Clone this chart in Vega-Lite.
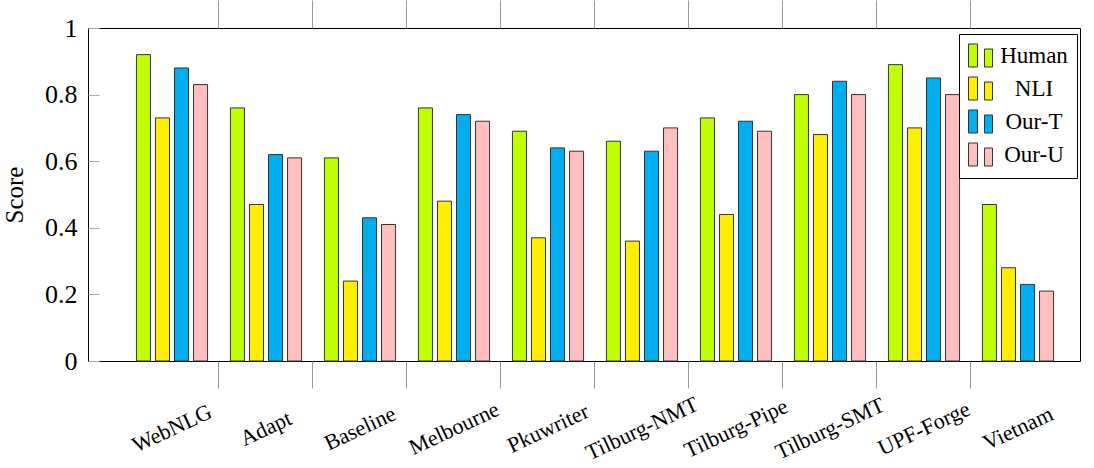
{
  "$schema": "https://vega.github.io/schema/vega-lite/v6.json",
  "autosize": "none",
  "padding": {"left": 88, "top": 28, "right": 14, "bottom": 107},
  "width": 992,
  "height": 333,
  "background": "white",
  "config": {
    "view": {"stroke": "black", "strokeWidth": 1},
    "font": "Liberation Serif"
  },
  "data": {
    "values": [
      {"system": "WebNLG", "method": "Human", "score": 0.92},
      {"system": "WebNLG", "method": "NLI", "score": 0.73},
      {"system": "WebNLG", "method": "Our-T", "score": 0.88},
      {"system": "WebNLG", "method": "Our-U", "score": 0.83},
      {"system": "Adapt", "method": "Human", "score": 0.76},
      {"system": "Adapt", "method": "NLI", "score": 0.47},
      {"system": "Adapt", "method": "Our-T", "score": 0.62},
      {"system": "Adapt", "method": "Our-U", "score": 0.61},
      {"system": "Baseline", "method": "Human", "score": 0.61},
      {"system": "Baseline", "method": "NLI", "score": 0.24},
      {"system": "Baseline", "method": "Our-T", "score": 0.43},
      {"system": "Baseline", "method": "Our-U", "score": 0.41},
      {"system": "Melbourne", "method": "Human", "score": 0.76},
      {"system": "Melbourne", "method": "NLI", "score": 0.48},
      {"system": "Melbourne", "method": "Our-T", "score": 0.74},
      {"system": "Melbourne", "method": "Our-U", "score": 0.72},
      {"system": "Pkuwriter", "method": "Human", "score": 0.69},
      {"system": "Pkuwriter", "method": "NLI", "score": 0.37},
      {"system": "Pkuwriter", "method": "Our-T", "score": 0.64},
      {"system": "Pkuwriter", "method": "Our-U", "score": 0.63},
      {"system": "Tilburg-NMT", "method": "Human", "score": 0.66},
      {"system": "Tilburg-NMT", "method": "NLI", "score": 0.36},
      {"system": "Tilburg-NMT", "method": "Our-T", "score": 0.63},
      {"system": "Tilburg-NMT", "method": "Our-U", "score": 0.70},
      {"system": "Tilburg-Pipe", "method": "Human", "score": 0.73},
      {"system": "Tilburg-Pipe", "method": "NLI", "score": 0.44},
      {"system": "Tilburg-Pipe", "method": "Our-T", "score": 0.72},
      {"system": "Tilburg-Pipe", "method": "Our-U", "score": 0.69},
      {"system": "Tilburg-SMT", "method": "Human", "score": 0.80},
      {"system": "Tilburg-SMT", "method": "NLI", "score": 0.68},
      {"system": "Tilburg-SMT", "method": "Our-T", "score": 0.84},
      {"system": "Tilburg-SMT", "method": "Our-U", "score": 0.80},
      {"system": "UPF-Forge", "method": "Human", "score": 0.89},
      {"system": "UPF-Forge", "method": "NLI", "score": 0.70},
      {"system": "UPF-Forge", "method": "Our-T", "score": 0.85},
      {"system": "UPF-Forge", "method": "Our-U", "score": 0.80},
      {"system": "Vietnam", "method": "Human", "score": 0.47},
      {"system": "Vietnam", "method": "NLI", "score": 0.28},
      {"system": "Vietnam", "method": "Our-T", "score": 0.23},
      {"system": "Vietnam", "method": "Our-U", "score": 0.21}
    ]
  },
  "resolve": {"axis": {"x": "independent"}},
  "layer": [
    {
      "mark": {"type": "bar", "stroke": "#333", "strokeWidth": 1, "opacity": 1},
      "encoding": {
        "x": {
          "field": "system", "type": "nominal", "sort": null,
          "scale": {"range": [37, 977], "paddingInner": 0.19, "paddingOuter": 0.095},
          "axis": {
            "orient": "bottom", "title": null, "domain": false,
            "labelAngle": -25, "labelAlign": "center", "labelBaseline": "middle",
            "labelFont": "Liberation Serif", "labelFontSize": 22, "labelColor": "black",
            "labelPadding": 40,
            "tickSize": 27, "tickColor": "#999", "tickWidth": 1,
            "bandPosition": -0.1173,
            "tickOpacity": {"condition": {"test": "datum.value === 'WebNLG'", "value": 0}, "value": 1}
          }
        },
        "xOffset": {
          "field": "method", "type": "nominal",
          "scale": {"paddingInner": 0.263, "paddingOuter": 0.1315}
        },
        "y": {
          "field": "score", "type": "quantitative",
          "scale": {"domain": [0, 1], "nice": false},
          "axis": {
            "title": "Score", "titleFont": "Liberation Serif", "titleFontSize": 25,
            "titleFontWeight": "normal", "titleColor": "black", "titlePadding": 17,
            "values": [0, 0.2, 0.4, 0.6, 0.8, 1], "format": "~g",
            "labelFont": "Liberation Serif", "labelFontSize": 26, "labelColor": "black",
            "labelFlush": false,
            "tickSize": -11, "tickColor": "#aaa", "labelPadding": 22,
            "domain": false, "grid": false
          }
        },
        "color": {
          "field": "method", "type": "nominal",
          "scale": {"domain": ["Human", "NLI", "Our-T", "Our-U"], "range": ["#BFFF00", "#FFEE00", "#00AEEF", "#FFBFBF"]},
          "legend": {
            "orient": "none", "legendX": 871, "legendY": 6, "title": null,
            "strokeColor": "black", "fillColor": "white", "padding": 9, "cornerRadius": 0,
            "symbolType": "M-1,-0.96H-0.25V0.96H-1Z M0.33,-0.54H1V0.96H0.33Z",
            "symbolSize": 576, "symbolStrokeColor": "#333", "symbolStrokeWidth": 1, "symbolOpacity": 1,
            "labelFont": "Liberation Serif", "labelFontSize": 23, "labelColor": "black",
            "labelAlign": "center", "labelOffset": 41, "rowPadding": 4
          }
        }
      }
    },
    {
      "mark": {"type": "bar", "opacity": 0},
      "encoding": {
        "x": {
          "field": "system", "type": "nominal", "sort": null,
          "axis": {
            "orient": "top", "title": null, "domain": false, "labels": false,
            "tickSize": 28, "tickColor": "#999", "tickWidth": 1,
            "bandPosition": -0.1173,
            "values": ["Adapt", "Baseline", "Melbourne", "Pkuwriter", "Tilburg-NMT", "Tilburg-Pipe", "Tilburg-SMT", "UPF-Forge", "Vietnam"]
          }
        },
        "xOffset": {"field": "method", "type": "nominal"}
      }
    }
  ]
}
